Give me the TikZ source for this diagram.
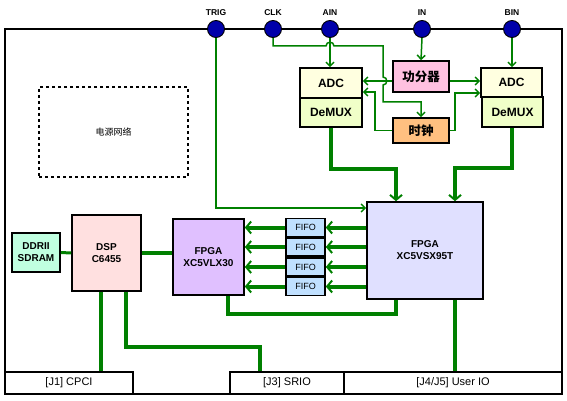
\documentclass[tikz,border=0pt]{standalone}
\usepackage{fontspec}
\setmainfont{Liberation Sans}
\newfontfamily\cjk{Noto Sans CJK SC}
\usetikzlibrary{arrows.meta}
\definecolor{wire}{RGB}{0,128,0}
\definecolor{portblue}{RGB}{0,0,170}
\definecolor{adcfill}{RGB}{255,255,224}
\definecolor{muxfill}{RGB}{240,255,200}
\definecolor{fenfill}{RGB}{255,192,224}
\definecolor{clkfill}{RGB}{255,192,128}
\definecolor{ddrfill}{RGB}{192,255,224}
\definecolor{dspfill}{RGB}{255,224,224}
\definecolor{fpgaafill}{RGB}{224,192,255}
\definecolor{fifofill}{RGB}{192,224,255}
\definecolor{fpgabfill}{RGB}{224,224,255}

\begin{document}
\begin{tikzpicture}[x=1pt,y=-1pt,
  box/.style={draw,line width=1.6pt,inner sep=0pt,align=center,font=\bfseries\fontsize{10}{12}\selectfont},
  bigbox/.style={box,font=\bfseries\fontsize{12}{14}\selectfont},
  port/.style={circle,draw,line width=0.9pt,fill=portblue,minimum size=17pt,inner sep=0pt,
    label={[font=\bfseries\fontsize{8.5}{10}\selectfont,label distance=1pt]above:#1}},
  jbox/.style={draw,line width=1.6pt,inner sep=0pt,minimum height=22pt,font=\fontsize{11}{13}\selectfont},
  sig/.style={draw=wire,line width=1.5pt},
  sigarrow/.style={sig,-{Straight Barb[length=4pt,width=8pt,line width=1.5pt]}},
  bus/.style={draw=wire,line width=4pt},
  busarrow/.style={bus,-{Straight Barb[length=5pt,width=12pt,line width=2pt]}},
]
\useasboundingbox (0,0) rectangle (567,401);
% board outline
\node[draw,line width=1.8pt,minimum width=557pt,minimum height=365pt,inner sep=0pt] (board) at (283.5,211.5) {};
% power block
\node[draw,dashed,line width=1.5pt,dash pattern=on 3pt off 3pt,minimum width=149pt,minimum height=90pt,
  font=\cjk\fontsize{9}{11}\selectfont] (power) at (113.5,132) {电源网络};

% connectors at the bottom
\node[jbox,minimum width=128pt] (jone) at (69,383) {[J1] CPCI};
\node[jbox,minimum width=114pt] (jthree) at (287,383) {[J3] SRIO};
\node[jbox,minimum width=218pt] (jfour) at (453,383) {[J4/J5] User IO};

% analog front end
\node[bigbox,fill=adcfill,minimum width=62pt,minimum height=30pt] (adca) at (331,83) {ADC};
\node[bigbox,fill=muxfill,minimum width=62pt,minimum height=29pt] (muxa) at (331,112.5) {DeMUX};
\node[bigbox,fill=adcfill,minimum width=61pt,minimum height=29pt] (adcb) at (511.5,82.5) {ADC};
\node[bigbox,fill=muxfill,minimum width=61pt,minimum height=30pt] (muxb) at (512.5,112) {DeMUX};
\node[bigbox,fill=fenfill,minimum width=56pt,minimum height=31pt,font=\cjk\bfseries\fontsize{12.5}{14}\selectfont] (fen) at (421,76.5) {功分器};
\node[bigbox,fill=clkfill,minimum width=56pt,minimum height=25pt,font=\cjk\bfseries\fontsize{12.5}{14}\selectfont] (clock) at (421,130.5) {时钟};

% digital part
\node[box,fill=ddrfill,minimum width=48pt,minimum height=39pt] (ddr) at (36,252.5) {DDRII\\SDRAM};
\node[box,fill=dspfill,minimum width=69pt,minimum height=76pt] (dsp) at (106.5,253) {DSP\\C6455};
\node[box,fill=fpgaafill,minimum width=71pt,minimum height=76pt] (fpgaa) at (208.5,257) {FPGA\\XC5VLX30};
\node[box,fill=fpgabfill,minimum width=116pt,minimum height=97pt] (fpgab) at (425,250.5) {FPGA\\XC5VSX95T};

% ports on the top edge
\node[port=TRIG] (trig) at (216,29) {};
\node[port=CLK] (clk) at (273,29) {};
\node[port=AIN] (ain) at (330,29) {};
\node[port=IN] (in) at (422,29) {};
\node[port=BIN] (bin) at (512,29) {};

% fifos between the two fpgas
\foreach \i/\y in {1/227.5,2/247,3/267,4/286.5}{
  \node[box,fill=fifofill,font=\fontsize{9}{11}\selectfont,minimum width=39pt,minimum height=18pt] (fifo\i) at (305.5,\y) {FIFO};
  \draw[busarrow] (fpgab.west |- fifo\i) -- (fifo\i.east);
  \draw[busarrow] (fifo\i.west) -- (fpgaa.east |- fifo\i);
}

% thin signals
\draw[sigarrow] (trig.south) -- (216,208) -- (fpgab.west |- 0,208);
\draw[sigarrow] (ain.south) -- (ain.south |- adca.north);
\draw[sigarrow] (in.south) -- (fen.north);
\draw[sigarrow] (bin.south) -- (bin.south |- adcb.north);
\draw[sigarrow] (clk.south) -- (273,46) -- (326,46) .. controls (326,41) and (334,41) .. (334,46)
  -- (383,46) -- (383,77) .. controls (388,77) and (388,85) .. (383,85) -- (383,102) -- (421,102) -- (clock.north);
\draw[sigarrow] (fen.west |- 0,81) -- (adca.east |- 0,81);
\draw[sigarrow] (clock.west) -- (375,130.5) -- (375,92) -- (adca.east |- 0,92);
\draw[sigarrow] (fen.east |- 0,81) -- (adcb.west |- 0,81);
\draw[sigarrow] (clock.east) -- (455,130.5) -- (455,93) -- (adcb.west |- 0,93);

% buses
\draw[busarrow] (muxa.south) -- (331,169) -- (396,169) -- (fpgab.north -| 396,0);
\draw[busarrow] (muxb.south -| 512,0) -- (512,168) -- (455,168) -- (fpgab.north -| 455,0);
\draw[bus,line width=3pt] (ddr.east) -- (dsp.west);
\draw[bus,line width=4.5pt] (dsp.east) -- (fpgaa.west |- dsp.east);
\draw[bus] (dsp.south -| 101,0) -- (jone.north -| 101,0);
\draw[bus] (dsp.south -| 126,0) -- (126,347) -- (260,347) -- (jthree.north -| 260,0);
\draw[bus] (fpgaa.south -| 228,0) -- (228,314) -- (396,314) -- (fpgab.south -| 396,0);
\draw[bus] (fpgab.south -| 455,0) -- (jfour.north -| 455,0);
\end{tikzpicture}
\end{document}
